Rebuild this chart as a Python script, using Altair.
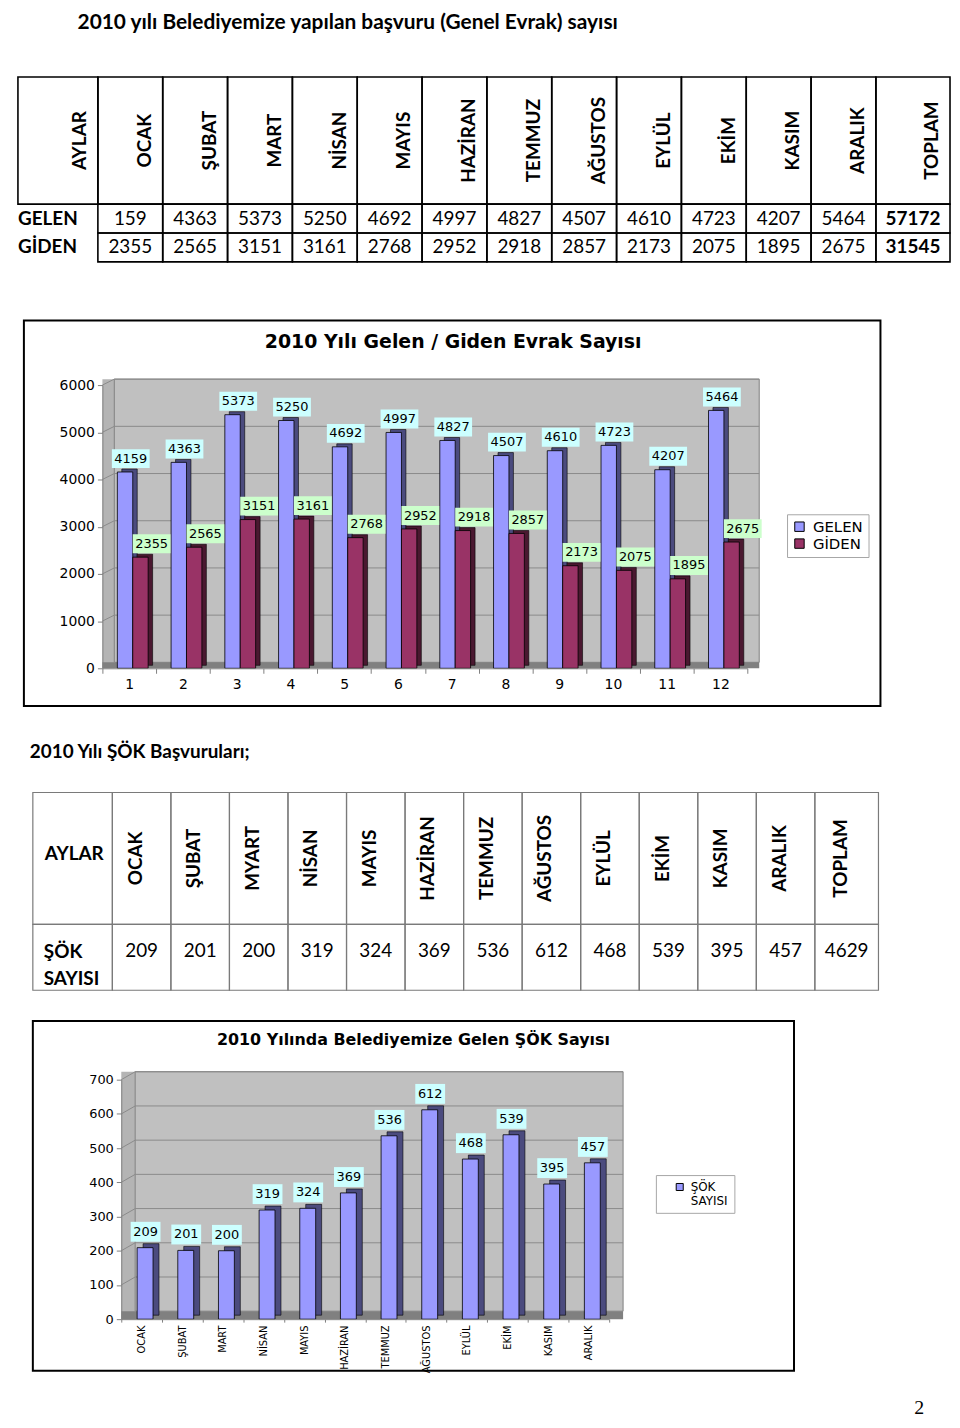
import altair as alt
import pandas as pd
from itertools import accumulate

# ------------------------------------------------------------------ data
page_title = "2010 yılı Belediyemize yapılan başvuru (Genel Evrak) sayısı"
months = ["OCAK", "ŞUBAT", "MART", "NİSAN", "MAYIS", "HAZİRAN", "TEMMUZ",
          "AĞUSTOS", "EYLÜL", "EKİM", "KASIM", "ARALIK"]
table1_head = ["AYLAR"] + months + ["TOPLAM"]
table1_rows = ["GELEN", "GİDEN"]
table1_gelen = [159, 4363, 5373, 5250, 4692, 4997, 4827, 4507, 4610, 4723, 4207, 5464]
table1_giden = [2355, 2565, 3151, 3161, 2768, 2952, 2918, 2857, 2173, 2075, 1895, 2675]
table1_totals = [57172, 31545]

chart1_title = "2010 Yılı  Gelen / Giden Evrak Sayısı"
chart1_months = [1, 2, 3, 4, 5, 6, 7, 8, 9, 10, 11, 12]
series1 = ["GELEN", "GİDEN"]
gelen_values = [4159, 4363, 5373, 5250, 4692, 4997, 4827, 4507, 4610, 4723, 4207, 5464]
giden_values = [2355, 2565, 3151, 3161, 2768, 2952, 2918, 2857, 2173, 2075, 1895, 2675]
chart1_yticks = [0, 1000, 2000, 3000, 4000, 5000, 6000]

section2_title = "2010 Yılı ŞÖK Başvuruları;"
table2_head = ["AYLAR", "OCAK", "ŞUBAT", "MYART", "NİSAN", "MAYIS", "HAZİRAN", "TEMMUZ",
               "AĞUSTOS", "EYLÜL", "EKİM", "KASIM", "ARALIK", "TOPLAM"]
table2_row = "ŞÖK SAYISI"
sok_values = [209, 201, 200, 319, 324, 369, 536, 612, 468, 539, 395, 457]
sok_total = 4629

chart2_title = "2010 Yılında  Belediyemize  Gelen ŞÖK Sayısı"
chart2_series = "ŞÖK SAYISI"
chart2_yticks = [0, 100, 200, 300, 400, 500, 600, 700]
page_number = "2"

# ------------------------------------------------------------------ style / layout
W = 944
DX = -6          # horizontal nudge of the page content
TFONT = "Lato"
CFONT = "DejaVu Sans"
NARROW = "Liberation Sans Narrow, DejaVu Sans Condensed, Liberation Sans"
one = pd.DataFrame({"k": [0]})


def deco_rect(x0, x1, y0, y1, **kw):
    return alt.Chart(one).mark_rect(**kw).encode(
        x=alt.value(x0 + DX), x2=alt.value(x1 + DX), y=alt.value(y0), y2=alt.value(y1))


def deco_text(txt, x, y, **kw):
    return alt.Chart(pd.DataFrame({"t": [txt]})).mark_text(**kw).encode(
        text="t:N", x=alt.value(x + DX), y=alt.value(y))


# ------------------------------------------------------------------ section 1: page title
s_title = deco_text(page_title, 70, 0, font=TFONT, fontSize=21, fontWeight="bold",
                    align="left", baseline="top", color="black").properties(width=W, height=58)

# ------------------------------------------------------------------ section 2: table 1
t1_units = [82 / 66.5] + [1] * 12 + [76 / 66.5]
t1_edges = [0] + list(accumulate(t1_units))
t1_rows_e = [0, 4.4, 5.4, 6.4]
t1_xs = alt.Scale(domain=[0, t1_edges[-1]], range=[4, 942], nice=False, zero=False)
t1_ys = alt.Scale(domain=[0, 6.4], range=[7, 193], nice=False, zero=False)

cells1, head1, vals1, bold1 = [], [], [], []
for c in range(14):
    for r in range(3):
        if c == 0 and r > 0:
            continue
        cells1.append(dict(x0=t1_edges[c], x1=t1_edges[c + 1], y0=t1_rows_e[r], y1=t1_rows_e[r + 1]))
    head1.append(dict(x=t1_edges[c + 1], y=t1_rows_e[1] / 2, t=table1_head[c]))
for r, (name, row, tot) in enumerate(zip(table1_rows, [table1_gelen, table1_giden], table1_totals)):
    ym = (t1_rows_e[r + 1] + t1_rows_e[r + 2]) / 2
    bold1.append(dict(x=0, y=ym, t=name, a="left"))
    for c, v in enumerate(row):
        vals1.append(dict(x=(t1_edges[c + 1] + t1_edges[c + 2]) / 2, y=ym, t=str(v)))
    bold1.append(dict(x=(t1_edges[13] + t1_edges[14]) / 2, y=ym, t=str(tot), a="center"))
bold1_l = [d for d in bold1 if d["a"] == "left"]
bold1_c = [d for d in bold1 if d["a"] == "center"]

X1t = alt.X("x:Q", scale=t1_xs, axis=None)
Y1t = alt.Y("y:Q", scale=t1_ys, axis=None)
t1_layers = [
    alt.Chart(pd.DataFrame(cells1)).mark_rect(fillOpacity=0, stroke="black", strokeWidth=1.6).encode(
        x=alt.X("x0:Q", scale=t1_xs, axis=None), x2="x1:Q",
        y=alt.Y("y0:Q", scale=t1_ys, axis=None), y2="y1:Q"),
    alt.Chart(pd.DataFrame(head1)).mark_text(font=TFONT, fontSize=19, fontWeight="bold", angle=270,
                                             align="center", baseline="middle", xOffset=-17.8,
                                             color="black").encode(x=X1t, y=Y1t, text="t:N"),
    alt.Chart(pd.DataFrame(vals1)).mark_text(font=TFONT, fontSize=19, align="center", baseline="middle",
                                             color="black").encode(x=X1t, y=Y1t, text="t:N"),
    alt.Chart(pd.DataFrame(bold1_c)).mark_text(font=TFONT, fontSize=19, fontWeight="bold", align="center",
                                               baseline="middle", color="black").encode(x=X1t, y=Y1t, text="t:N"),
    alt.Chart(pd.DataFrame(bold1_l)).mark_text(font=TFONT, fontSize=19, fontWeight="bold", align="left",
                                               baseline="middle", color="black").encode(x=X1t, y=Y1t, text="t:N"),
]
s_table1 = alt.layer(*t1_layers).properties(width=W, height=246)

# ------------------------------------------------------------------ section 3: chart 1
c1 = pd.DataFrame({"ay": chart1_months * 2,
                   "seri": [series1[0]] * 12 + [series1[1]] * 12,
                   "deger": gelen_values + giden_values})
ys1 = alt.Scale(domain=[0, 6000], range=[356, 71], nice=False, zero=True)
yax1 = alt.Axis(title=None, offset=-(95 + DX), values=chart1_yticks, format="d", labelFont=CFONT,
                labelFontSize=14, labelColor="black", tickSize=5, tickColor="#808080",
                domainColor="#808080", labelPadding=3, grid=False, zindex=1)
X1 = alt.X("ay:O", scale=alt.Scale(domain=chart1_months, range=[95 + DX, 744 + DX], paddingInner=0,
                                   paddingOuter=0),
           axis=alt.Axis(title=None, offset=-44, labelAngle=0, labelFont=CFONT, labelFontSize=14,
                         labelColor="black", tickBand="extent", tickSize=5, tickColor="#808080",
                         domainColor="#808080", labelPadding=4, grid=False, zindex=1))
Y1 = alt.Y("deger:Q", scale=ys1, axis=yax1)
C1 = alt.Color("seri:N", scale=alt.Scale(domain=series1, range=["#9999FF", "#993366"]),
               legend=alt.Legend(title=None, orient="none", legendX=784 + DX, legendY=201,
                                 direction="vertical", symbolType="square", symbolSize=90,
                                 symbolStrokeColor="black", symbolStrokeWidth=1,
                                 labelFont=CFONT, labelFontSize=15, labelColor="black",
                                 strokeColor="#a6a6a6", fillColor="white", padding=5,
                                 rowPadding=1, labelOffset=6))
box1 = "M-1,-0.5H1V0.5H-1Z"
g1 = pd.DataFrame({"yt": chart1_yticks[1:]})

# horizontal placement of each series inside a month band (pixels from band centre)
BW1 = 15.5
pos1 = {series1[0]: -4.25, series1[1]: 11.25}
lab1 = {series1[0]: (1.5, "#CCFFFF"), series1[1]: (22.5, "#CCFFCC")}
dark1 = {series1[0]: "#4b4b7e", series1[1]: "#4a1830"}

c1_layers = [
    deco_rect(16, 878, 6, 394, color="white"),
    deco_rect(95, 107, 65, 356, color="#b4b4b4"),
    deco_rect(107, 756, 65, 350, color="#c0c0c0", stroke="#808080", strokeWidth=1),
    deco_rect(95, 756, 350, 356, color="#808080"),
    alt.Chart(g1).mark_rule(color="#8a8a8a", strokeWidth=1, yOffset=-6).encode(
        x=alt.value(107 + DX), x2=alt.value(756 + DX), y=alt.Y("yt:Q", scale=ys1, axis=yax1)),
    alt.Chart(g1).mark_rule(color="#8a8a8a", strokeWidth=1, y2Offset=-6).encode(
        x=alt.value(95 + DX), x2=alt.value(107 + DX), y=alt.Y("yt:Q", scale=ys1, axis=yax1), y2="yt:Q"),
]
for s in series1:
    base = alt.Chart(c1).transform_filter(alt.datum.seri == s)
    c1_layers.append(base.mark_bar(width=BW1, xOffset=pos1[s] + 4.5, yOffset=-3, y2Offset=-3,
                                   color=dark1[s], stroke="black", strokeWidth=0.6).encode(x=X1, y=Y1))
    c1_layers.append(base.mark_bar(width=BW1, xOffset=pos1[s], stroke="black", strokeWidth=0.8,
                                   opacity=1).encode(x=X1, y=Y1, color=C1))
for s in series1:
    base = alt.Chart(c1).transform_filter(alt.datum.seri == s)
    dx, fillc = lab1[s]
    c1_layers.append(base.mark_point(shape=box1, size=1444, filled=True, fill=fillc, color=fillc,
                                     opacity=1, strokeWidth=0, xOffset=dx, yOffset=-13.5).encode(x=X1, y=Y1))
    c1_layers.append(base.mark_text(font=CFONT, fontSize=13, color="black", align="center",
                                    baseline="middle", xOffset=dx, yOffset=-13.5).encode(
        x=X1, y=Y1, text=alt.Text("deger:Q", format="d")))
c1_layers += [
    deco_rect(16, 878, 6, 394, fillOpacity=0, stroke="black", strokeWidth=2),
    deco_text(chart1_title, 448, 28, font=CFONT, fontSize=19, fontWeight="bold", align="center",
              baseline="middle", color="black"),
]
s_chart1 = alt.layer(*c1_layers).properties(width=W, height=400)

# ------------------------------------------------------------------ section 4: subtitle
s_sub = deco_text(section2_title, 22, 40, font=TFONT, fontSize=19, fontWeight="bold",
                  align="left", baseline="middle", color="black").properties(width=W, height=74)

# ------------------------------------------------------------------ section 5: table 2
t2_units = [80 / 58.9] + [1] * 12 + [64 / 58.9]
t2_edges = [0] + list(accumulate(t2_units))
t2_xs = alt.Scale(domain=[0, t2_edges[-1]], range=[25 + DX, 876 + DX], nice=False, zero=False)
t2_ys = alt.Scale(domain=[0, 3], range=[7, 206], nice=False, zero=False)
cells2, head2, vals2 = [], [], []
for c in range(14):
    for r, (y0, y1) in enumerate([(0, 2), (2, 3)]):
        cells2.append(dict(x0=t2_edges[c], x1=t2_edges[c + 1], y0=y0, y1=y1))
    if c > 0:
        head2.append(dict(x=(t2_edges[c] + t2_edges[c + 1]) / 2, y=1.0, t=table2_head[c]))
for c, v in enumerate(sok_values + [sok_total]):
    vals2.append(dict(x=(t2_edges[c + 1] + t2_edges[c + 2]) / 2, y=2.5, t=str(v)))
X2t = alt.X("x:Q", scale=t2_xs, axis=None)
Y2t = alt.Y("y:Q", scale=t2_ys, axis=None)
t2_layers = [
    alt.Chart(pd.DataFrame(cells2)).mark_rect(fillOpacity=0, stroke="#7a7a7a", strokeWidth=1.2).encode(
        x=alt.X("x0:Q", scale=t2_xs, axis=None), x2="x1:Q",
        y=alt.Y("y0:Q", scale=t2_ys, axis=None), y2="y1:Q"),
    alt.Chart(pd.DataFrame(head2)).mark_text(font=TFONT, fontSize=19, fontWeight="bold", angle=270,
                                             align="center", baseline="middle", xOffset=-6,
                                             color="black").encode(x=X2t, y=Y2t, text="t:N"),
    alt.Chart(pd.DataFrame([dict(x=0, y=1.0, t=table2_head[0])])).mark_text(
        font=TFONT, fontSize=19, fontWeight="bold", align="left", baseline="middle", xOffset=12,
        yOffset=-4, color="black").encode(x=X2t, y=Y2t, text="t:N"),
    alt.Chart(pd.DataFrame([dict(x=0, y=2.5, t=table2_row)])).mark_text(
        font=TFONT, fontSize=19, fontWeight="bold", align="left", baseline="middle", xOffset=11,
        yOffset=-5, lineBreak=" ", lineHeight=27, color="black").encode(x=X2t, y=Y2t, text="t:N"),
    alt.Chart(pd.DataFrame(vals2)).mark_text(font=TFONT, fontSize=19, align="center", baseline="middle",
                                             yOffset=-6, color="black").encode(x=X2t, y=Y2t, text="t:N"),
]
s_table2 = alt.layer(*t2_layers).properties(width=W, height=226)

# ------------------------------------------------------------------ section 6: chart 2
c2 = pd.DataFrame({"ay": months, "seri": [chart2_series] * 12, "sok": sok_values})
ys2 = alt.Scale(domain=[0, 700], range=[311, 70], nice=False, zero=True)
yax2 = alt.Axis(title=None, offset=-(114 + DX), values=chart2_yticks, format="d", labelFont=CFONT,
                labelFontSize=13, labelColor="black", tickSize=5, tickColor="#808080",
                domainColor="#808080", labelPadding=3, grid=False, zindex=1)
X2 = alt.X("ay:N", sort=months, scale=alt.Scale(domain=months, range=[114 + DX, 605 + DX], paddingInner=0,
                                                paddingOuter=0),
           axis=alt.Axis(title=None, offset=-59, labelAngle=270, labelFont=NARROW, labelFontSize=11,
                         labelColor="black", tickBand="extent", tickSize=3, tickColor="#808080",
                         domainColor="#808080", labelPadding=3, grid=False, zindex=1))
Y2 = alt.Y("sok:Q", scale=ys2, axis=yax2)
g2 = pd.DataFrame({"yt": chart2_yticks[1:]})
box2 = "M-1,-0.667H1V0.667H-1Z"
c2_layers = [
    deco_rect(25, 791, 11, 363, color="white"),
    deco_rect(114, 128, 62, 311, color="#b4b4b4"),
    deco_rect(128, 619, 62, 303, color="#c0c0c0", stroke="#808080", strokeWidth=1),
    deco_rect(114, 619, 303, 311, color="#808080"),
    alt.Chart(g2).mark_rule(color="#8a8a8a", strokeWidth=1, yOffset=-8).encode(
        x=alt.value(128 + DX), x2=alt.value(619 + DX), y=alt.Y("yt:Q", scale=ys2, axis=yax2)),
    alt.Chart(g2).mark_rule(color="#8a8a8a", strokeWidth=1, y2Offset=-8).encode(
        x=alt.value(114 + DX), x2=alt.value(128 + DX), y=alt.Y("yt:Q", scale=ys2, axis=yax2), y2="yt:Q"),
    alt.Chart(c2).mark_bar(width=16, xOffset=9.5, yOffset=-4, y2Offset=-4, color="#4b4b7e",
                           stroke="black", strokeWidth=0.6).encode(x=X2, y=Y2),
    alt.Chart(c2).mark_bar(width=16, xOffset=3.5, stroke="black", strokeWidth=0.8, opacity=1).encode(
        x=X2, y=Y2,
        color=alt.Color("seri:N", scale=alt.Scale(domain=[chart2_series], range=["#9999FF"]),
                        legend=alt.Legend(title=None, orient="none", legendX=652 + DX, legendY=166,
                                          symbolType="square", symbolSize=50, symbolStrokeColor="black",
                                          symbolStrokeWidth=1, symbolOffset=12, labelFont=CFONT,
                                          labelFontSize=12, labelColor="black",
                                          labelExpr="split(datum.label, ' ')",
                                          strokeColor="#a6a6a6", fillColor="white", padding=6,
                                          labelOffset=5))),
    alt.Chart(c2).mark_point(shape=box2, size=900, filled=True, fill="#CCFFFF", color="#CCFFFF",
                             opacity=1, strokeWidth=0, xOffset=4, yOffset=-16).encode(x=X2, y=Y2),
    alt.Chart(c2).mark_text(font=CFONT, fontSize=13, color="black", align="center", baseline="middle",
                            xOffset=4, yOffset=-16).encode(x=X2, y=Y2, text=alt.Text("sok:Q", format="d")),
    deco_rect(25, 791, 11, 363, fillOpacity=0, stroke="black", strokeWidth=2),
    deco_text(chart2_title, 408, 30, font=CFONT, fontSize=16, fontWeight="bold", align="center",
              baseline="middle", color="black"),
]
s_chart2 = alt.layer(*c2_layers).properties(width=W, height=370)

# ------------------------------------------------------------------ section 7: page number
s_page = deco_text(page_number, 917, 36, font="Liberation Serif", fontSize=20, align="center",
                   baseline="alphabetic", color="black").properties(width=W, height=38)

chart = alt.vconcat(s_title, s_table1, s_chart1, s_sub, s_table2, s_chart2, s_page,
                    spacing=0, bounds="flush", padding=0).resolve_scale(
    x="independent", y="independent", color="independent"
).configure_view(strokeWidth=0)

chart.save("out.html", embed_options={"renderer": "svg", "actions": False})
